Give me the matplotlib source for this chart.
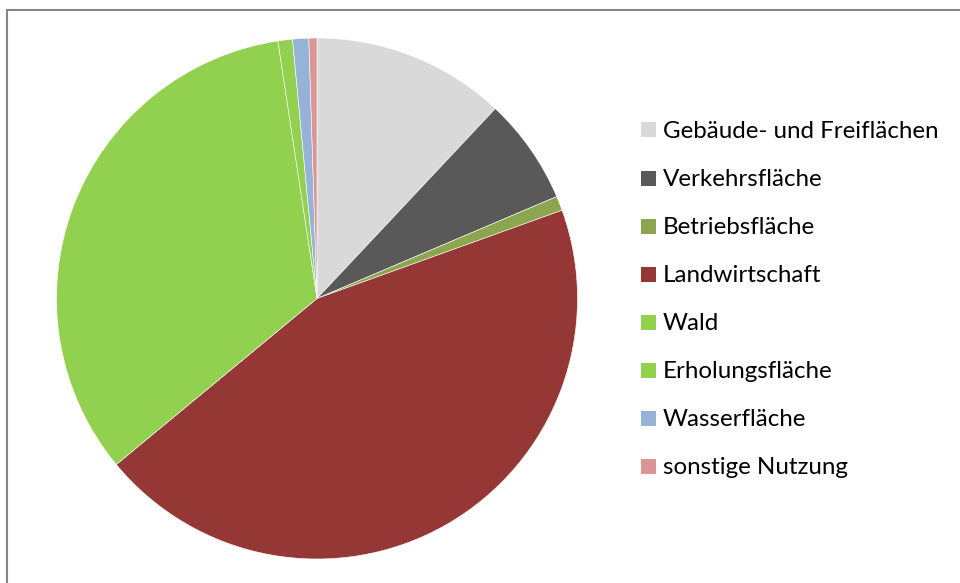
import matplotlib
matplotlib.use("Agg")
import matplotlib.pyplot as plt
from matplotlib.lines import Line2D

categories = ["Gebäude- und Freiflächen", "Verkehrsfläche", "Betriebsfläche",
              "Landwirtschaft", "Wald", "Erholungsfläche", "Wasserfläche",
              "sonstige Nutzung"]
values = [12.0, 6.6, 0.9, 44.5, 33.6, 0.9, 1.0, 0.5]
colors = ["#D9D9D9", "#595959", "#8CA650", "#953735", "#92D050", "#92D050",
          "#95B3D7", "#D99694"]

W, H = 960, 583
fig = plt.figure(figsize=(W / 100, H / 100), dpi=100)
fig.patch.set_facecolor("white")

cx, cy, r = 317, 298.5, 260.5
ax = fig.add_axes([(cx - r) / W, (H - cy - r) / H, 2 * r / W, 2 * r / H])
ax.pie(values, colors=colors, startangle=90, counterclock=False, radius=1,
       wedgeprops=dict(edgecolor="white", linewidth=0.4))
ax.set_xlim(-1, 1)
ax.set_ylim(-1, 1)
ax.set_aspect("equal")
ax.axis("off")

# legend drawn as text + squares
font = "Lato"
y0, dy = 130, 48
for i, (lab, col) in enumerate(zip(categories, colors)):
    yc = y0 + i * dy
    fig.patches.append(plt.Rectangle((641 / W, (H - yc - 7.5) / H), 15 / W, 15 / H,
                                     transform=fig.transFigure, facecolor=col,
                                     edgecolor="none"))
    fig.text(663 / W, (H - yc) / H, lab, fontsize=17.4, family=font,
             va="center_baseline", ha="left", color="black")

# frame lines (top and left)
fig.add_artist(Line2D([6.5 / W, 1], [1 - 9.5 / H, 1 - 9.5 / H], transform=fig.transFigure,
                      color="#868686", linewidth=1.5))
fig.add_artist(Line2D([6.5 / W, 6.5 / W], [0, 1 - 9.5 / H], transform=fig.transFigure,
                      color="#868686", linewidth=1.5))

fig.savefig("out.png", dpi=100, facecolor="white")
